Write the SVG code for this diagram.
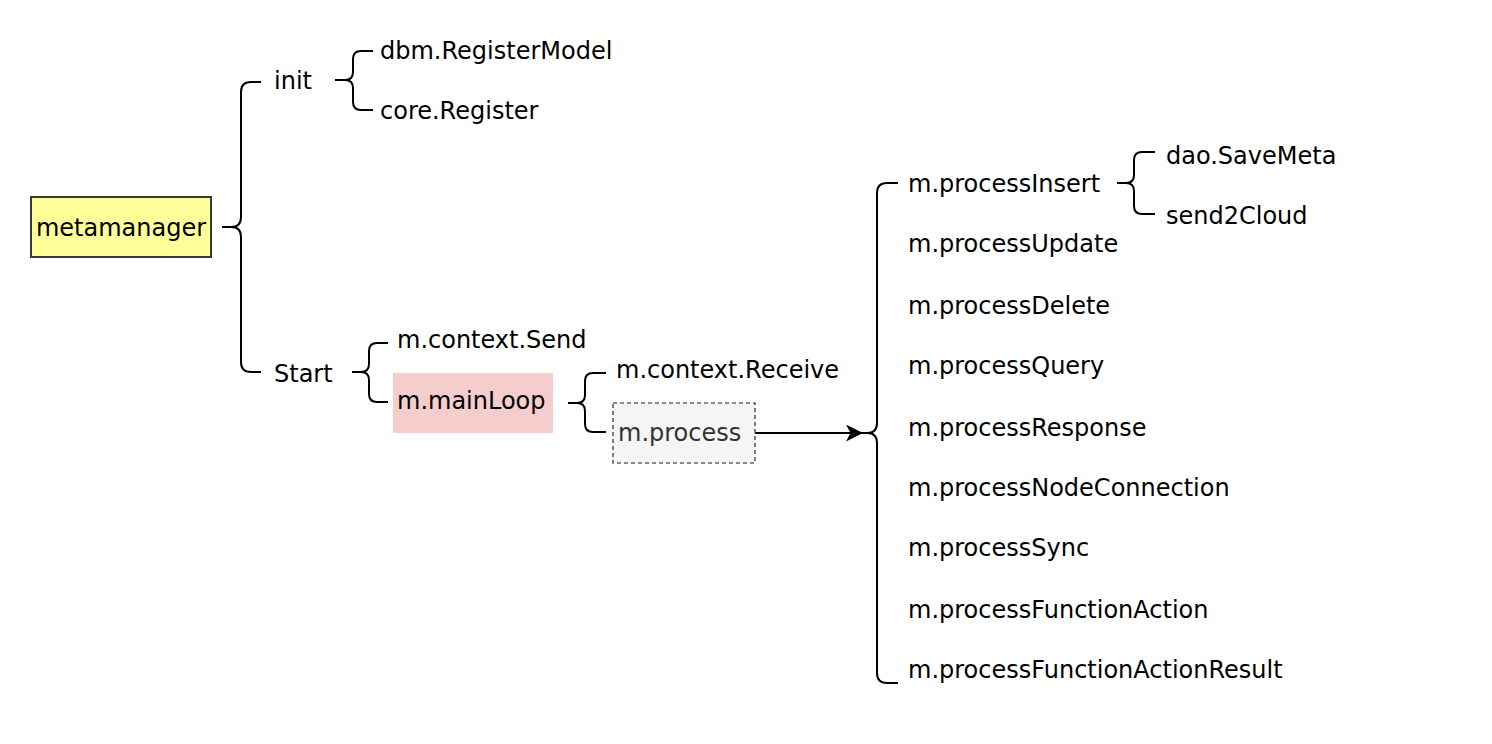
<svg xmlns="http://www.w3.org/2000/svg" width="1492" height="744" viewBox="0 0 1492 744">
<style>
text{font-family:"DejaVu Sans",Verdana,sans-serif;font-size:24px;fill:#000}
.br{fill:none;stroke:#000;stroke-width:2;stroke-linejoin:round}
</style>
<defs>
<marker id="arr" markerWidth="18" markerHeight="18" refX="17" refY="8.5" orient="auto" markerUnits="userSpaceOnUse">
<path d="M0,0 L17,8.5 L0,17 L4.5,8.5 Z" fill="#000"/>
</marker>
</defs>
<rect width="1492" height="744" fill="#fff"/>
<g id="connectors">
<path class="br" d="M261 82 H251 Q241 82 241 92 V217 Q241 227 231 227 H222 M222 227 H231 Q241 227 241 237 V362 Q241 372 251 372 H261"/>
<path class="br" d="M373 51 H361 Q353 51 353 59 V72 Q353 80 345 80 H335 M335 80 H345 Q353 80 353 88 V102 Q353 110 361 110 H373"/>
<path class="br" d="M388 343 H377 Q369 343 369 351 V364 Q369 372 361 372 H352 M352 372 H361 Q369 372 369 380 V394 Q369 402 377 402 H388"/>
<path class="br" d="M606 373 H593 Q585 373 585 381 V395 Q585 403 577 403 H568 M568 403 H577 Q585 403 585 411 V424 Q585 432 593 432 H606"/>
<path class="br" d="M898 183 H887 Q877 183 877 193 V423 Q877 433 867 433 H862 M862 433 H867 Q877 433 877 443 V673 Q877 683 887 683 H898"/>
<path class="br" d="M1155 152 H1142 Q1134 152 1134 160 V175 Q1134 183 1126 183 H1117 M1117 183 H1126 Q1134 183 1134 191 V206 Q1134 214 1142 214 H1155"/>
<line x1="755" y1="433" x2="863" y2="433" stroke="#000" stroke-width="2" marker-end="url(#arr)"/>
</g>
<g id="metamanager">
<rect x="31" y="197" width="180" height="60" fill="#ffff99" stroke="#36393d" stroke-width="2"/>
<text x="121" y="236" text-anchor="middle">metamanager</text>
</g>
<g id="init"><text x="274" y="89">init</text></g>
<g id="dbm-RegisterModel"><text x="380" y="59">dbm.RegisterModel</text></g>
<g id="core-Register"><text x="380" y="119">core.Register</text></g>
<g id="Start"><text x="274" y="382">Start</text></g>
<g id="m-context-Send"><text x="397" y="348">m.context.Send</text></g>
<g id="m-mainLoop">
<rect x="393" y="373" width="160" height="60" fill="#f4cdcc"/>
<text x="397" y="409">m.mainLoop</text>
</g>
<g id="m-context-Receive"><text x="616" y="378">m.context.Receive</text></g>
<g id="m-process">
<rect x="613" y="403" width="142" height="60" fill="#f5f5f5" stroke="#666666" stroke-width="1.7" stroke-dasharray="4,3"/>
<text x="618" y="441" style="fill:#333333">m.process</text>
</g>
<g id="m-processInsert"><text x="908" y="192">m.processInsert</text></g>
<g id="dao-SaveMeta"><text x="1166" y="164">dao.SaveMeta</text></g>
<g id="send2Cloud"><text x="1166" y="224">send2Cloud</text></g>
<g id="m-processUpdate"><text x="908" y="252">m.processUpdate</text></g>
<g id="m-processDelete"><text x="908" y="314">m.processDelete</text></g>
<g id="m-processQuery"><text x="908" y="374">m.processQuery</text></g>
<g id="m-processResponse"><text x="908" y="436">m.processResponse</text></g>
<g id="m-processNodeConnection"><text x="908" y="496">m.processNodeConnection</text></g>
<g id="m-processSync"><text x="908" y="556">m.processSync</text></g>
<g id="m-processFunctionAction"><text x="908" y="618">m.processFunctionAction</text></g>
<g id="m-processFunctionActionResult"><text x="908" y="678">m.processFunctionActionResult</text></g>
</svg>
